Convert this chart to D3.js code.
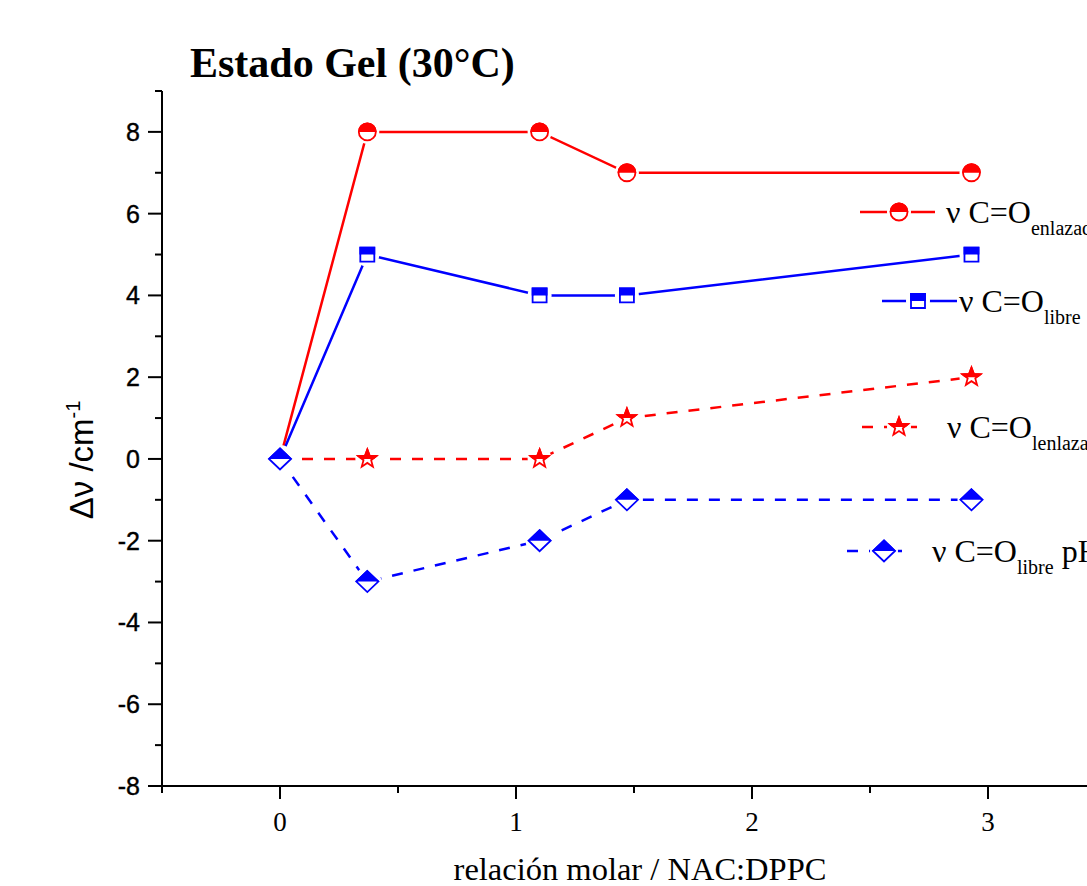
<!DOCTYPE html>
<html>
<head>
<meta charset="utf-8">
<script src="https://cdn.jsdelivr.net/npm/d3@7"></script>
<style>
  html, body { margin: 0; padding: 0; background: #fff; overflow: hidden; }
</style>
</head>
<body>
<div id="canvas"></div>
<script>
"use strict"

/* Canvas size */
let svgWidth = 1087;
let svgHeight = 886;

/* Data */
let ratios = [0, 0.37, 1.1, 1.47, 2.93];
let enlazado = [0, 8, 8, 7, 7];
let libre = [0, 5, 4, 4, 5];
let lenlazado = [0, 0, 0, 1, 2];
let librePH = [0, -3, -2, -1, -1];
let subLabels = ["enlazado", "libre", "lenlazado", "libre"];
let xTicks = [0, 1, 2, 3];
let xMinor = [-0.5, 0.5, 1.5, 2.5, 3.5];
let yTicks = [-8, -6, -4, -2, 0, 2, 4, 6, 8];
let yMinor = [-7, -5, -3, -1, 1, 3, 5, 7, 9];

/* Series styles */
let series = [
    { values: enlazado, color: "#ff0000", dash: null, shape: "circle", sub: subLabels[0], after: "" },
    { values: libre, color: "#0000ff", dash: null, shape: "square", sub: subLabels[1], after: "" },
    { values: lenlazado, color: "#ff0000", dash: "11,11", shape: "star", sub: subLabels[2], after: "" },
    { values: librePH, color: "#0000ff", dash: "11,11", shape: "diamond", sub: subLabels[3], after: " pH" }
];

/* Legend layout (line start, line end, marker x, y, text x) */
let legendPos = [
    { x1: 860, x2: 935, mx: 899, y: 212, tx: 946 },
    { x1: 882, x2: 957, mx: 918, y: 301, tx: 959 },
    { x1: 862, x2: 920, mx: 899, y: 427, tx: 947 },
    { x1: 847, x2: 904, mx: 884, y: 551, tx: 932 }
];

let svg = d3.select("#canvas")
    .append("svg")
    .attr("width", svgWidth)
    .attr("height", svgHeight);

/* Clip used to fill only the top half of a marker */
svg.append("defs").append("clipPath")
    .attr("id", "topHalf")
    .append("rect")
    .attr("x", -20).attr("y", -20)
    .attr("width", 40).attr("height", 20);

let xScale = d3.scaleLinear()
    .domain([-0.5, 3.5])
    .range([162, 1106]);

let yScale = d3.scaleLinear()
    .domain([-8, 9])
    .range([786, 91]);

/* Marker paths */
function starPath(R, r) {
    let pts = [];
    for (let i = 0; i < 10; i++) {
        let rad = i % 2 === 0 ? R : r;
        let a = -Math.PI / 2 + i * Math.PI / 5;
        pts.push([rad * Math.cos(a), rad * Math.sin(a)]);
    }
    return "M" + pts.map(p => p[0].toFixed(2) + "," + p[1].toFixed(2)).join("L") + "Z";
}

let shapePaths = {
    circle: "M-8.5,0A8.5,8.5 0 1,1 8.5,0A8.5,8.5 0 1,1 -8.5,0Z",
    square: "M-7,-7H7V7H-7Z",
    diamond: "M0,-10.5L11,0L0,10.5L-11,0Z",
    star: starPath(9.5, 4)
};

function drawMarker(g, shape, color) {
    g.append("circle")
        .attr("r", shape === "diamond" ? 14 : 12)
        .attr("fill", "#fff");
    g.append("path")
        .attr("d", shapePaths[shape])
        .attr("fill", "#fff")
        .attr("stroke", color)
        .attr("stroke-width", 1.8);
    g.append("path")
        .attr("d", shapePaths[shape])
        .attr("fill", color)
        .attr("stroke", color)
        .attr("stroke-width", 1.8)
        .attr("clip-path", "url(#topHalf)");
}

/* Axes */
let axisColor = "#000";

let xAxis = svg.append("g")
    .attr("transform", "translate(0," + yScale(-8) + ")");
xAxis.append("line")
    .attr("x1", 148).attr("x2", svgWidth + 20)
    .attr("stroke", axisColor).attr("stroke-width", 2);
xAxis.selectAll(".xmaj").data(xTicks).join("line")
    .attr("class", "xmaj")
    .attr("x1", d => xScale(d)).attr("x2", d => xScale(d))
    .attr("y1", 0).attr("y2", 13)
    .attr("stroke", axisColor).attr("stroke-width", 2);
xAxis.selectAll(".xmin").data(xMinor).join("line")
    .attr("class", "xmin")
    .attr("x1", d => xScale(d)).attr("x2", d => xScale(d))
    .attr("y1", 0).attr("y2", 7)
    .attr("stroke", axisColor).attr("stroke-width", 2);
xAxis.selectAll("text").data(xTicks).join("text")
    .attr("x", d => xScale(d))
    .attr("y", 45)
    .attr("text-anchor", "middle")
    .style("font-family", "'Liberation Serif', 'Times New Roman', serif")
    .style("font-size", "27px")
    .text(d => d);

let yAxis = svg.append("g")
    .attr("transform", "translate(" + xScale(-0.5) + ",0)");
yAxis.append("line")
    .attr("y1", yScale(9)).attr("y2", yScale(-8) + 6)
    .attr("stroke", axisColor).attr("stroke-width", 2);
yAxis.selectAll(".ymaj").data(yTicks).join("line")
    .attr("class", "ymaj")
    .attr("y1", d => yScale(d)).attr("y2", d => yScale(d))
    .attr("x1", 0).attr("x2", -14)
    .attr("stroke", axisColor).attr("stroke-width", 2);
yAxis.selectAll(".ymin").data(yMinor).join("line")
    .attr("class", "ymin")
    .attr("y1", d => yScale(d)).attr("y2", d => yScale(d))
    .attr("x1", 0).attr("x2", -7)
    .attr("stroke", axisColor).attr("stroke-width", 2);
yAxis.selectAll("text").data(yTicks).join("text")
    .attr("x", -22)
    .attr("y", d => yScale(d))
    .attr("dy", "0.36em")
    .attr("text-anchor", "end")
    .style("font-family", "'Liberation Sans', Arial, sans-serif")
    .style("font-size", "25px")
    .style("stroke", "#000")
    .style("stroke-width", 0.4)
    .text(d => d);

/* Axis titles */
svg.append("text")
    .attr("x", 640)
    .attr("y", 880)
    .attr("text-anchor", "middle")
    .style("font-family", "'Liberation Serif', 'Times New Roman', serif")
    .style("font-size", "32.5px")
    .text("relación molar / NAC:DPPC");

let yLabel = svg.append("text")
    .attr("transform", "translate(93,460) rotate(-90)")
    .attr("text-anchor", "middle")
    .style("font-family", "'Liberation Sans', Arial, sans-serif")
    .style("font-size", "33px");
yLabel.append("tspan").text("Δν /cm");
yLabel.append("tspan").attr("dy", -13).style("font-size", "20px").text("-1");

svg.append("text")
    .attr("x", 190)
    .attr("y", 77)
    .style("font-family", "'Liberation Serif', 'Times New Roman', serif")
    .style("font-weight", "bold")
    .style("font-size", "42px")
    .text("Estado Gel (30°C)");

/* Lines */
let line = d3.line()
    .x((d, i) => xScale(ratios[i]))
    .y(d => yScale(d));

series.forEach(function (s) {
    svg.append("path")
        .attr("d", line(s.values))
        .attr("fill", "none")
        .attr("stroke", s.color)
        .attr("stroke-width", 2.5)
        .attr("stroke-dasharray", s.dash);
});

/* Markers */
series.forEach(function (s) {
    s.values.forEach(function (v, i) {
        let g = svg.append("g")
            .attr("transform", "translate(" + xScale(ratios[i]) + "," + yScale(v) + ")");
        drawMarker(g, s.shape, s.color);
    });
});

/* Legend */
series.forEach(function (s, k) {
    let p = legendPos[k];
    svg.append("line")
        .attr("x1", p.x1).attr("x2", p.x2)
        .attr("y1", p.y).attr("y2", p.y)
        .attr("stroke", s.color)
        .attr("stroke-width", 2.5)
        .attr("stroke-dasharray", s.dash);
    let g = svg.append("g")
        .attr("transform", "translate(" + p.mx + "," + p.y + ")");
    drawMarker(g, s.shape, s.color);

    let t = svg.append("text")
        .attr("x", p.tx)
        .attr("y", p.y + 11)
        .style("font-family", "'Liberation Serif', 'Times New Roman', serif")
        .style("font-size", "32px");
    t.append("tspan").text("ν C=O");
    t.append("tspan").attr("dy", 12).style("font-size", "20px").text(s.sub);
    if (s.after) {
        t.append("tspan").attr("dy", -12).text(s.after);
    }
});
</script>
</body>
</html>
